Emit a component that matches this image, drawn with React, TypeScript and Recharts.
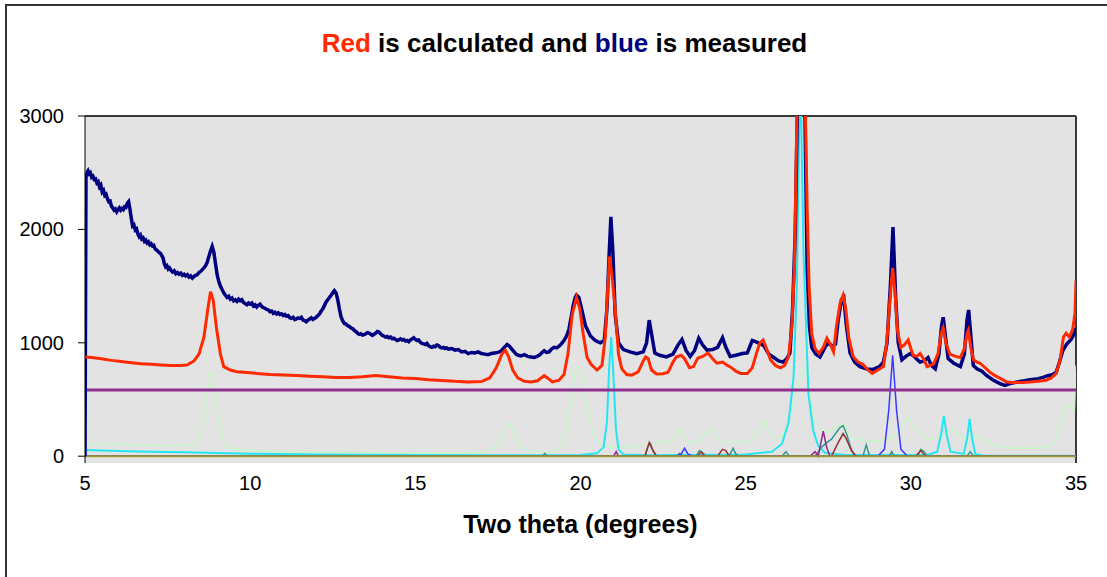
import { CartesianGrid, Line, LineChart, ReferenceLine, XAxis, YAxis } from 'recharts'

type Pt = [number, number]

// measured pattern (blue)
const measured: Pt[] = [
  [5.0, 0], [5.03, 2460], [5.06, 2500], [5.09, 2515], [5.12, 2490], [5.16, 2500], [5.2, 2460],
  [5.24, 2470], [5.28, 2440], [5.32, 2445], [5.36, 2410], [5.4, 2420], [5.44, 2375], [5.48, 2390],
  [5.52, 2330], [5.56, 2345], [5.6, 2300], [5.64, 2310], [5.68, 2270], [5.72, 2245], [5.76, 2250],
  [5.8, 2205], [5.84, 2190], [5.88, 2170], [5.92, 2180], [5.96, 2155], [6.0, 2175], [6.04, 2190],
  [6.08, 2170], [6.12, 2185], [6.16, 2175], [6.2, 2200], [6.24, 2195], [6.28, 2230], [6.32, 2245],
  [6.36, 2180], [6.4, 2100], [6.44, 2030], [6.48, 2040], [6.52, 1995], [6.56, 2005], [6.6, 1960],
  [6.64, 1935], [6.68, 1950], [6.72, 1915], [6.76, 1925], [6.8, 1895], [6.84, 1905], [6.88, 1880],
  [6.92, 1890], [6.96, 1865], [7.0, 1875], [7.04, 1855], [7.08, 1860], [7.12, 1830], [7.16, 1820],
  [7.2, 1810], [7.24, 1795], [7.28, 1790], [7.32, 1770], [7.36, 1750], [7.4, 1700], [7.44, 1670],
  [7.48, 1680], [7.52, 1650], [7.56, 1660], [7.6, 1640], [7.65, 1625], [7.7, 1635], [7.75, 1610],
  [7.8, 1620], [7.85, 1605], [7.9, 1615], [7.95, 1595], [8.0, 1605], [8.05, 1590], [8.1, 1600],
  [8.15, 1580], [8.2, 1590], [8.25, 1570], [8.3, 1585], [8.35, 1595], [8.4, 1600], [8.45, 1620],
  [8.5, 1630], [8.55, 1645], [8.6, 1660], [8.65, 1680], [8.7, 1710], [8.75, 1760], [8.8, 1810],
  [8.85, 1850], [8.9, 1800], [8.95, 1700], [9.0, 1600], [9.05, 1540], [9.1, 1500], [9.15, 1470],
  [9.2, 1440], [9.25, 1420], [9.3, 1400], [9.35, 1410], [9.4, 1385], [9.45, 1395], [9.5, 1370],
  [9.55, 1380], [9.6, 1365], [9.65, 1385], [9.7, 1370], [9.75, 1380], [9.8, 1355], [9.85, 1345],
  [9.9, 1335], [9.95, 1350], [10.0, 1340], [10.05, 1350], [10.1, 1325], [10.15, 1335], [10.2, 1315],
  [10.25, 1330], [10.3, 1340], [10.35, 1320], [10.4, 1310], [10.45, 1305], [10.5, 1295], [10.55, 1290],
  [10.6, 1275], [10.65, 1280], [10.7, 1260], [10.75, 1270], [10.8, 1255], [10.85, 1265], [10.9, 1250],
  [10.95, 1255], [11.0, 1240], [11.05, 1250], [11.1, 1235], [11.15, 1240], [11.2, 1220], [11.25, 1215],
  [11.3, 1225], [11.35, 1205], [11.4, 1210], [11.45, 1220], [11.5, 1215], [11.55, 1225], [11.6, 1200],
  [11.65, 1195], [11.7, 1185], [11.75, 1200], [11.8, 1210], [11.85, 1220], [11.9, 1205], [11.95, 1215],
  [12.0, 1225], [12.05, 1240], [12.1, 1255], [12.15, 1280], [12.2, 1300], [12.25, 1330], [12.3, 1360],
  [12.35, 1380], [12.4, 1400], [12.45, 1420], [12.5, 1440], [12.55, 1460], [12.6, 1440], [12.65, 1380],
  [12.7, 1300], [12.75, 1230], [12.8, 1195], [12.85, 1170], [12.9, 1165], [12.95, 1150], [13.0, 1145],
  [13.05, 1130], [13.1, 1125], [13.15, 1110], [13.2, 1100], [13.25, 1085], [13.3, 1075], [13.35, 1080],
  [13.4, 1068], [13.45, 1072], [13.5, 1080], [13.55, 1090], [13.6, 1085], [13.65, 1075], [13.7, 1065],
  [13.75, 1075], [13.8, 1085], [13.85, 1100], [13.9, 1095], [13.95, 1080], [14.0, 1065], [14.05, 1060],
  [14.1, 1050], [14.15, 1055], [14.2, 1045], [14.25, 1050], [14.3, 1035], [14.35, 1040], [14.4, 1030],
  [14.45, 1020], [14.5, 1025], [14.55, 1035], [14.6, 1025], [14.65, 1030], [14.7, 1015], [14.75, 1020],
  [14.8, 1010], [14.85, 1025], [14.9, 1035], [14.95, 1045], [15.0, 1030], [15.05, 1020], [15.1, 1025],
  [15.15, 1005], [15.2, 995], [15.25, 990], [15.3, 985], [15.35, 995], [15.4, 975], [15.45, 965],
  [15.5, 960], [15.55, 970], [15.6, 965], [15.65, 980], [15.7, 975], [15.75, 960], [15.8, 955],
  [15.85, 960], [15.9, 950], [15.95, 955], [16.0, 945], [16.1, 950], [16.2, 935], [16.3, 940],
  [16.4, 920], [16.5, 925], [16.6, 905], [16.7, 915], [16.8, 910], [16.9, 920], [17.0, 905],
  [17.1, 900], [17.2, 895], [17.3, 905], [17.4, 910], [17.5, 915], [17.6, 930], [17.7, 960],
  [17.78, 985], [17.85, 970], [17.92, 945], [18.05, 900], [18.12, 890], [18.2, 885], [18.3, 895],
  [18.4, 880], [18.5, 875], [18.6, 870], [18.68, 880], [18.75, 890], [18.82, 910], [18.9, 930],
  [18.97, 915], [19.05, 920], [19.12, 945], [19.2, 960], [19.28, 955], [19.35, 970], [19.42, 990],
  [19.5, 1020], [19.58, 1060], [19.65, 1120], [19.72, 1230], [19.78, 1330], [19.84, 1400], [19.88, 1420],
  [19.95, 1400], [20.05, 1280], [20.15, 1150], [20.3, 1060], [20.45, 1020], [20.6, 1000], [20.72, 1020],
  [20.8, 1300], [20.87, 1800], [20.92, 2110], [20.98, 1800], [21.05, 1250], [21.15, 1000], [21.3, 940],
  [21.5, 920], [21.7, 905], [21.9, 920], [22.0, 1000], [22.08, 1200], [22.15, 1080], [22.25, 910],
  [22.4, 890], [22.6, 875], [22.8, 900], [22.95, 980], [23.07, 1030], [23.2, 930], [23.32, 880],
  [23.45, 930], [23.58, 1040], [23.7, 980], [23.83, 935], [24.0, 940], [24.15, 960], [24.3, 1045],
  [24.4, 960], [24.53, 880], [24.7, 890], [24.9, 905], [25.05, 910], [25.2, 1020], [25.3, 1010],
  [25.45, 990], [25.55, 975], [25.7, 900], [25.85, 870], [26.0, 840], [26.13, 830], [26.25, 860],
  [26.34, 910], [26.42, 1300], [26.5, 1970], [26.58, 3300], [26.68, 4500], [26.78, 3300], [26.86, 1670],
  [26.93, 1150], [27.0, 960], [27.12, 900], [27.25, 875], [27.4, 960], [27.5, 1000], [27.62, 970],
  [27.72, 990], [27.8, 1200], [27.9, 1380], [27.97, 1400], [28.05, 1150], [28.16, 910], [28.3, 830],
  [28.46, 790], [28.65, 770], [28.86, 765], [29.05, 790], [29.17, 830], [29.28, 1000], [29.38, 1500],
  [29.46, 2020], [29.54, 1400], [29.62, 1000], [29.73, 850], [29.85, 880], [29.98, 905], [30.1, 880],
  [30.2, 850], [30.28, 830], [30.4, 840], [30.52, 870], [30.62, 800], [30.74, 770], [30.85, 900],
  [30.93, 1150], [30.98, 1225], [31.05, 1050], [31.13, 860], [31.3, 820], [31.5, 790], [31.62, 900],
  [31.7, 1200], [31.75, 1290], [31.82, 1050], [31.89, 800], [32.0, 770], [32.15, 750], [32.3, 710],
  [32.5, 670], [32.7, 640], [32.85, 625], [33.0, 640], [33.15, 650], [33.3, 660], [33.45, 665],
  [33.6, 675], [33.8, 680], [34.0, 695], [34.15, 710], [34.3, 720], [34.4, 740], [34.5, 830],
  [34.6, 930], [34.72, 990], [34.85, 1030], [34.95, 1080], [35.0, 1130],
]

// calculated pattern (red)
const calculated: Pt[] = [
  [5.0, 875], [5.2, 870], [5.5, 860], [5.8, 845], [6.1, 835], [6.4, 825], [6.7, 815], [7.0, 810],
  [7.3, 805], [7.6, 800], [7.9, 800], [8.1, 805], [8.3, 840], [8.45, 900], [8.6, 1050], [8.72, 1300],
  [8.8, 1450], [8.88, 1380], [8.98, 1130], [9.1, 900], [9.2, 790], [9.4, 760], [9.6, 745], [9.8, 740],
  [10.2, 730], [10.6, 720], [11.0, 715], [11.4, 712], [11.8, 705], [12.2, 700], [12.6, 695], [13.0, 695],
  [13.4, 700], [13.8, 712], [14.2, 700], [14.6, 690], [15.0, 685], [15.4, 675], [15.8, 668], [16.2, 660],
  [16.6, 655], [17.0, 658], [17.25, 690], [17.45, 780], [17.62, 900], [17.72, 935], [17.82, 880],
  [17.95, 760], [18.1, 690], [18.3, 660], [18.5, 655], [18.7, 665], [18.9, 710], [19.0, 690],
  [19.15, 655], [19.35, 670], [19.5, 720], [19.62, 900], [19.75, 1250], [19.88, 1400], [19.98, 1300],
  [20.08, 1080], [20.2, 870], [20.32, 810], [20.5, 760], [20.65, 800], [20.75, 1050], [20.83, 1500],
  [20.88, 1760], [20.95, 1600], [21.05, 1300], [21.15, 900], [21.25, 770], [21.4, 720], [21.55, 715],
  [21.75, 745], [21.9, 840], [21.97, 875], [22.05, 860], [22.15, 760], [22.3, 725], [22.5, 728],
  [22.65, 740], [22.8, 830], [22.9, 875], [23.05, 890], [23.15, 860], [23.3, 780], [23.42, 790],
  [23.55, 865], [23.7, 880], [23.86, 910], [24.0, 860], [24.13, 820], [24.3, 830], [24.45, 800],
  [24.55, 785], [24.7, 750], [24.85, 730], [25.05, 730], [25.2, 780], [25.32, 900], [25.43, 1000],
  [25.53, 1025], [25.63, 950], [25.75, 850], [25.9, 800], [26.05, 780], [26.18, 800], [26.3, 880],
  [26.4, 1150], [26.48, 1700], [26.55, 3000], [26.66, 4400], [26.78, 3500], [26.86, 2200], [26.92, 1500],
  [27.0, 1080], [27.1, 950], [27.22, 905], [27.35, 960], [27.46, 1040], [27.56, 990], [27.66, 920],
  [27.75, 1150], [27.86, 1350], [27.95, 1420], [28.03, 1300], [28.12, 1050], [28.25, 880], [28.4, 830],
  [28.55, 810], [28.7, 760], [28.83, 730], [29.0, 760], [29.17, 790], [29.27, 1000], [29.36, 1350],
  [29.45, 1660], [29.52, 1450], [29.6, 1100], [29.7, 960], [29.8, 980], [29.92, 1025], [30.0, 950],
  [30.07, 890], [30.18, 880], [30.28, 905], [30.4, 850], [30.49, 790], [30.6, 800], [30.7, 820],
  [30.82, 900], [30.92, 1080], [30.98, 1130], [31.06, 1000], [31.18, 900], [31.35, 880], [31.5, 870],
  [31.62, 950], [31.7, 1080], [31.74, 1110], [31.82, 950], [31.9, 850], [32.0, 830], [32.1, 820],
  [32.25, 780], [32.4, 740], [32.55, 710], [32.75, 680], [32.9, 655], [33.1, 650], [33.4, 650],
  [33.6, 655], [33.85, 660], [34.1, 670], [34.25, 690], [34.4, 730], [34.52, 850], [34.62, 1050],
  [34.7, 1085], [34.8, 1050], [34.9, 1120], [34.97, 1260], [35.0, 1550],
]

const offsetLine: Pt[] = [[5, 583], [35, 583]]
const baseline: Pt[] = [[5, 0], [35, 0]]

const phasePale: Pt[] = [
  [5.0, 120], [5.5, 110], [6.0, 105], [6.5, 100], [7.0, 95], [7.5, 92], [8.0, 95], [8.3, 115],
  [8.5, 200], [8.65, 450], [8.78, 700], [8.85, 760], [8.93, 600], [9.05, 300], [9.2, 110], [9.4, 70],
  [9.8, 55], [10.5, 45], [11.5, 38], [12.5, 35], [13.5, 30], [14.5, 28], [15.5, 25], [16.5, 25],
  [17.2, 40], [17.5, 110], [17.7, 250], [17.8, 300], [17.9, 260], [18.1, 120], [18.4, 50], [18.8, 35],
  [19.2, 40], [19.5, 120], [19.7, 450], [19.85, 770], [19.95, 790], [20.05, 700], [20.2, 430],
  [20.4, 180], [20.6, 100], [20.9, 80], [21.3, 85], [21.8, 95], [22.2, 110], [22.5, 135], [22.7, 115],
  [22.85, 160], [22.98, 240], [23.1, 170], [23.3, 120], [23.6, 135], [23.8, 200], [23.93, 260],
  [24.05, 190], [24.3, 130], [24.7, 120], [25.1, 130], [25.35, 200], [25.55, 315], [25.7, 220],
  [25.9, 150], [26.1, 180], [26.3, 300], [26.5, 560], [26.65, 700], [26.8, 790], [26.9, 640],
  [27.05, 350], [27.25, 230], [27.5, 210], [27.75, 260], [27.95, 290], [28.15, 200], [28.4, 150],
  [28.8, 130], [29.2, 140], [29.5, 180], [29.75, 280], [29.92, 345], [30.05, 290], [30.3, 180],
  [30.6, 150], [30.9, 170], [31.1, 210], [31.28, 235], [31.45, 190], [31.7, 150], [31.9, 165],
  [32.1, 175], [32.3, 130], [32.6, 90], [33.0, 75], [33.5, 70], [34.0, 70], [34.3, 110], [34.5, 260],
  [34.65, 420], [34.75, 450], [34.85, 420], [34.95, 400], [35.0, 800],
]

const phaseCyan: Pt[] = [
  [5.0, 55], [6.0, 45], [7.0, 40], [8.0, 35], [9.0, 28], [10.0, 22], [12.0, 15], [15.0, 10], [18.0, 8],
  [20.0, 10], [20.5, 25], [20.7, 80], [20.8, 300], [20.87, 800], [20.93, 1050], [21.0, 700], [21.07, 250],
  [21.15, 60], [21.3, 15], [22.0, 8], [25.0, 15], [25.8, 40], [26.1, 110], [26.3, 300], [26.45, 700],
  [26.55, 1500], [26.65, 3500], [26.75, 1800], [26.9, 550], [27.05, 220], [27.2, 90], [27.4, 30],
  [28.0, 10], [30.5, 10], [30.8, 40], [30.92, 200], [31.0, 355], [31.08, 200], [31.2, 40], [31.6, 20],
  [31.7, 150], [31.78, 330], [31.86, 150], [31.95, 20], [32.2, 5], [35.0, 5],
]

const phaseBlue: Pt[] = [
  [5, 0], [22.9, 0], [23.05, 20], [23.15, 70], [23.25, 20], [23.4, 0], [29.0, 0], [29.2, 60],
  [29.33, 400], [29.45, 890], [29.57, 400], [29.7, 60], [29.9, 0], [35, 0],
]

const phaseTeal: Pt[] = [
  [5, 0], [18.85, 0], [18.92, 25], [19.0, 0], [21.95, 0], [22.05, 90], [22.12, 110], [22.2, 40],
  [22.3, 0], [22.9, 0], [23.0, 25], [23.1, 0], [23.5, 0], [23.6, 50], [23.7, 30], [23.8, 0], [24.5, 0],
  [24.62, 70], [24.7, 20], [24.8, 0], [26.1, 0], [26.22, 40], [26.32, 0], [27.1, 0], [27.3, 80],
  [27.45, 120], [27.6, 150], [27.85, 250], [27.95, 270], [28.05, 200], [28.2, 60], [28.3, 0],
  [28.55, 0], [28.65, 100], [28.75, 0], [29.35, 0], [29.42, 40], [29.5, 0], [30.2, 0], [30.3, 60],
  [30.4, 40], [30.5, 0], [31.7, 0], [31.8, 40], [31.9, 0], [35, 0],
]

const phaseMaroon: Pt[] = [
  [5, 0], [21.95, 0], [22.08, 120], [22.18, 60], [22.3, 0], [23.55, 0], [23.65, 40], [23.75, 0],
  [24.15, 0], [24.3, 60], [24.4, 50], [24.5, 0], [27.6, 0], [27.8, 120], [27.95, 200], [28.05, 150],
  [28.2, 50], [28.35, 0], [30.15, 0], [30.3, 50], [30.45, 0], [35, 0],
]

const phasePurple: Pt[] = [
  [5, 0], [21.0, 0], [21.08, 40], [21.15, 0], [26.95, 0], [27.1, 40], [27.2, 0], [27.25, 80],
  [27.35, 220], [27.45, 80], [27.55, 0], [35, 0],
]

const xTicks = [5, 10, 15, 20, 25, 30, 35]
const yTicks = [0, 1000, 2000, 3000]

const toRows = (pts: Pt[]) => pts.map(([x, y]) => ({ x, y }))

const FONT = '"Liberation Sans", Arial, sans-serif'

const series = [
  { name: 'pale', data: phasePale, color: '#c8f5c8', width: 1.5 },
  { name: 'cyan', data: phaseCyan, color: '#22e6f2', width: 2 },
  { name: 'teal', data: phaseTeal, color: '#2f9a8f', width: 1.5 },
  { name: 'maroon', data: phaseMaroon, color: '#9a3030', width: 1.5 },
  { name: 'purple', data: phasePurple, color: '#8e2a8e', width: 1.5 },
  { name: 'blueph', data: phaseBlue, color: '#3a3aff', width: 1.5 },
  { name: 'offset', data: offsetLine, color: '#8e2e8e', width: 3 },
  { name: 'base', data: baseline, color: '#9a9a30', width: 2 },
  { name: 'measured', data: measured, color: '#000080', width: 3.5 },
  { name: 'calculated', data: calculated, color: '#ff2a00', width: 3 },
]

export default function App() {
  return (
    <div style={{ position: 'absolute', left: 0, top: 0, width: 1107, height: 577, background: '#fff', overflow: 'hidden' }}>
      <div
        style={{
          position: 'absolute',
          left: 5,
          top: 4,
          width: 1120,
          height: 600,
          borderTop: '2px solid #333',
          borderLeft: '2px solid #333',
        }}
      />
      <div
        style={{
          position: 'absolute',
          left: 0,
          width: 1129,
          top: 28,
          textAlign: 'center',
          fontFamily: FONT,
          fontWeight: 'bold',
          fontSize: 26,
          lineHeight: '30px',
          whiteSpace: 'nowrap',
        }}
      >
        <span style={{ color: '#ff2a00' }}>Red</span> is calculated and <span style={{ color: '#000080' }}>blue</span> is measured
      </div>
      <div style={{ position: 'absolute', left: 0, top: 0 }}>
        <LineChart width={1107} height={577} margin={{ top: 116, right: 31, bottom: 84, left: 0 }}>
          <CartesianGrid horizontal={false} vertical={false} fill="#e3e3e3" />
          <XAxis
            dataKey="x"
            type="number"
            domain={[5, 35]}
            ticks={xTicks}
            allowDataOverflow
            axisLine={false}
            tickLine={false}
            tickMargin={7}
            height={30}
            tick={{ fill: '#000', fontSize: 20, fontFamily: FONT }}
            label={{
              value: 'Two theta (degrees)',
              position: 'bottom',
              offset: 22,
              fill: '#000',
              fontSize: 25,
              fontWeight: 'bold',
              fontFamily: FONT,
            }}
          />
          <YAxis
            type="number"
            domain={[-60, 3000]}
            ticks={yTicks}
            allowDataOverflow
            width={85}
            axisLine={{ stroke: '#000' }}
            tickLine={{ stroke: '#000' }}
            tickSize={7}
            tickMargin={14}
            tick={{ fill: '#000', fontSize: 20, fontFamily: FONT }}
          />
          <ReferenceLine y={3000} stroke="#3a3a3a" strokeWidth={2} />
          <ReferenceLine x={35} stroke="#3a3a3a" strokeWidth={2} />
          {series.map((s) => (
            <Line
              key={s.name}
              data={toRows(s.data)}
              dataKey="y"
              type="linear"
              stroke={s.color}
              strokeWidth={s.width}
              dot={false}
              activeDot={false}
              isAnimationActive={false}
            />
          ))}
        </LineChart>
      </div>
    </div>
  )
}
